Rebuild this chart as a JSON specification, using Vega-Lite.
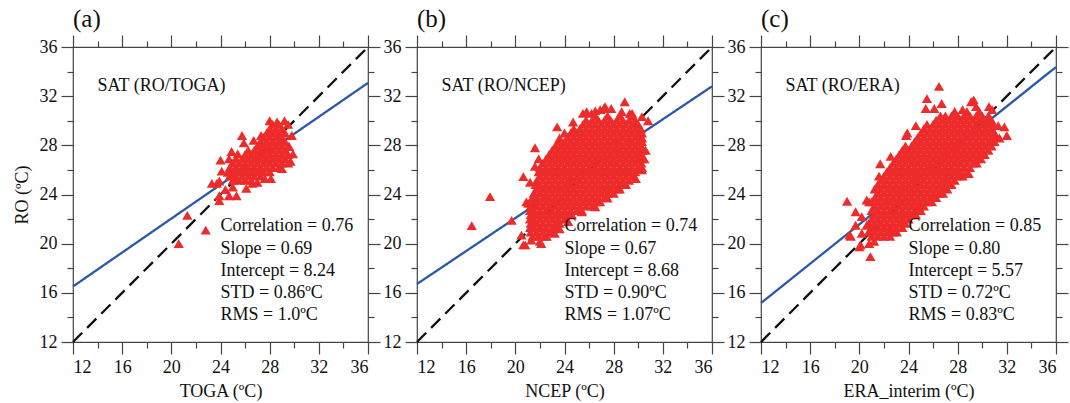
{
"$schema":"https://vega.github.io/schema/vega-lite/v6.json",
"background":"white",
"padding":{"left":12,"top":6,"right":0,"bottom":0},
"config":{"font":"Liberation Serif","view":{"stroke":"#444","strokeWidth":1.2},"axis":{"grid":false,"domain":false,"tickColor":"#444","tickWidth":1.2,"labelFont":"Liberation Serif","labelFontSize":18,"labelColor":"#111","titleFont":"Liberation Serif","titleFontSize":18,"titleFontWeight":"normal","titleColor":"#111"}},
"datasets":{
"la":[{"k":"fit","x1":12,"y1":16.52,"x2":36,"y2":33.08},{"k":"one","x1":12,"y1":12,"x2":36,"y2":36}],
"lb":[{"k":"fit","x1":12,"y1":16.72,"x2":36,"y2":32.8},{"k":"one","x1":12,"y1":12,"x2":36,"y2":36}],
"lc":[{"k":"fit","x1":12,"y1":15.17,"x2":36,"y2":34.37},{"k":"one","x1":12,"y1":12,"x2":36,"y2":36}],
"ta":[{"x":14,"y":32.85,"t":"SAT (RO/TOGA)"},{"x":24,"y":21.4,"t":"Correlation = 0.76"},{"x":24,"y":19.6,"t":"Slope = 0.69"},{"x":24,"y":17.8,"t":"Intercept = 8.24"},{"x":24,"y":16.0,"t":"STD = 0.86ºC"},{"x":24,"y":14.2,"t":"RMS = 1.0ºC"}],
"tb":[{"x":14,"y":32.85,"t":"SAT (RO/NCEP)"},{"x":24,"y":21.4,"t":"Correlation = 0.74"},{"x":24,"y":19.6,"t":"Slope = 0.67"},{"x":24,"y":17.8,"t":"Intercept = 8.68"},{"x":24,"y":16.0,"t":"STD = 0.90ºC"},{"x":24,"y":14.2,"t":"RMS = 1.07ºC"}],
"tc":[{"x":14,"y":32.85,"t":"SAT (RO/ERA)"},{"x":24,"y":21.4,"t":"Correlation = 0.85"},{"x":24,"y":19.6,"t":"Slope = 0.80"},{"x":24,"y":17.8,"t":"Intercept = 5.57"},{"x":24,"y":16.0,"t":"STD = 0.72ºC"},{"x":24,"y":14.2,"t":"RMS = 0.83ºC"}],
"pa":[
{"x":25.0,"y":25.15},{"x":25.5,"y":25.15},{"x":26.0,"y":25.15},{"x":26.5,"y":25.15},
{"x":24.75,"y":25.5},{"x":25.25,"y":25.5},{"x":25.75,"y":25.5},{"x":26.25,"y":25.5},{"x":26.75,"y":25.5},{"x":27.25,"y":25.5},
{"x":25.0,"y":25.85},{"x":25.5,"y":25.85},{"x":26.0,"y":25.85},{"x":26.5,"y":25.85},{"x":27.0,"y":25.85},{"x":27.5,"y":25.85},{"x":28.0,"y":25.85},
{"x":24.75,"y":26.2},{"x":25.25,"y":26.2},{"x":25.75,"y":26.2},{"x":26.25,"y":26.2},{"x":26.75,"y":26.2},{"x":27.25,"y":26.2},{"x":27.75,"y":26.2},{"x":28.25,"y":26.2},{"x":28.75,"y":26.2},
{"x":25.0,"y":26.55},{"x":25.5,"y":26.55},{"x":26.0,"y":26.55},{"x":26.5,"y":26.55},{"x":27.0,"y":26.55},{"x":27.5,"y":26.55},{"x":28.0,"y":26.55},{"x":28.5,"y":26.55},{"x":29.0,"y":26.55},{"x":29.5,"y":26.55},
{"x":25.25,"y":26.9},{"x":25.75,"y":26.9},{"x":26.25,"y":26.9},{"x":26.75,"y":26.9},{"x":27.25,"y":26.9},{"x":27.75,"y":26.9},{"x":28.25,"y":26.9},{"x":28.75,"y":26.9},{"x":29.25,"y":26.9},
{"x":26.0,"y":27.25},{"x":26.5,"y":27.25},{"x":27.0,"y":27.25},{"x":27.5,"y":27.25},{"x":28.0,"y":27.25},{"x":28.5,"y":27.25},{"x":29.0,"y":27.25},{"x":29.5,"y":27.25},
{"x":26.25,"y":27.6},{"x":26.75,"y":27.6},{"x":27.25,"y":27.6},{"x":27.75,"y":27.6},{"x":28.25,"y":27.6},{"x":28.75,"y":27.6},{"x":29.25,"y":27.6},
{"x":27.0,"y":27.95},{"x":27.5,"y":27.95},{"x":28.0,"y":27.95},{"x":28.5,"y":27.95},{"x":29.0,"y":27.95},{"x":29.5,"y":27.95},
{"x":27.25,"y":28.3},{"x":27.75,"y":28.3},{"x":28.25,"y":28.3},{"x":28.75,"y":28.3},{"x":29.25,"y":28.3},
{"x":27.5,"y":28.65},{"x":28.0,"y":28.65},{"x":28.5,"y":28.65},{"x":29.0,"y":28.65},
{"x":27.75,"y":29.0},{"x":28.25,"y":29.0},{"x":28.75,"y":29.0},{"x":29.25,"y":29.0},
{"x":28.0,"y":29.35},{"x":28.5,"y":29.35},{"x":29.0,"y":29.35},
{"x":28.25,"y":29.7},{"x":28.75,"y":29.7},
{"x":28.0,"y":30.0},{"x":29.2,"y":30.0},{"x":28.6,"y":29.9},{"x":29.5,"y":29.7},{"x":25.75,"y":28.8},{"x":25.9,"y":28.2},{"x":26.7,"y":28.4},{"x":27.3,"y":28.8},{"x":24.9,"y":27.5},{"x":24.0,"y":26.8},{"x":24.7,"y":26.9},{"x":25.4,"y":27.3},{"x":24.1,"y":25.9},{"x":24.6,"y":25.8},{"x":23.9,"y":25.1},{"x":23.3,"y":24.9},{"x":23.7,"y":24.9},{"x":25.3,"y":23.9},{"x":26.1,"y":24.5},{"x":24.7,"y":23.9},{"x":23.9,"y":23.9},{"x":23.9,"y":23.5},{"x":24.4,"y":24.4},{"x":25.0,"y":24.6},{"x":27.0,"y":25.0},{"x":28.1,"y":25.3},{"x":29.0,"y":26.1},{"x":29.7,"y":26.7},{"x":29.6,"y":27.9},{"x":29.8,"y":28.8},{"x":29.9,"y":27.3},{"x":21.3,"y":22.3},{"x":20.6,"y":20.0},{"x":22.8,"y":21.1},{"x":26.6,"y":24.9},{"x":27.6,"y":25.3}
],
"pb":[
{"x":21.4,"y":20.6},{"x":21.9,"y":20.6},{"x":22.4,"y":20.6},
{"x":21.25,"y":20.95},{"x":21.75,"y":20.95},{"x":22.25,"y":20.95},{"x":22.75,"y":20.95},{"x":23.05,"y":20.95},
{"x":21.2,"y":21.3},{"x":21.5,"y":21.3},{"x":22.0,"y":21.3},{"x":22.5,"y":21.3},{"x":23.0,"y":21.3},{"x":23.4,"y":21.3},
{"x":21.25,"y":21.65},{"x":21.75,"y":21.65},{"x":22.25,"y":21.65},{"x":22.75,"y":21.65},{"x":23.25,"y":21.65},{"x":23.6,"y":21.65},
{"x":21.2,"y":22.0},{"x":21.5,"y":22.0},{"x":22.0,"y":22.0},{"x":22.5,"y":22.0},{"x":23.0,"y":22.0},{"x":23.5,"y":22.0},{"x":24.0,"y":22.0},
{"x":21.25,"y":22.35},{"x":21.75,"y":22.35},{"x":22.25,"y":22.35},{"x":22.75,"y":22.35},{"x":23.25,"y":22.35},{"x":23.75,"y":22.35},{"x":24.25,"y":22.35},{"x":24.6,"y":22.35},
{"x":21.2,"y":22.7},{"x":21.5,"y":22.7},{"x":22.0,"y":22.7},{"x":22.5,"y":22.7},{"x":23.0,"y":22.7},{"x":23.5,"y":22.7},{"x":24.0,"y":22.7},{"x":24.5,"y":22.7},{"x":25.0,"y":22.7},{"x":25.4,"y":22.7},
{"x":21.25,"y":23.05},{"x":21.75,"y":23.05},{"x":22.25,"y":23.05},{"x":22.75,"y":23.05},{"x":23.25,"y":23.05},{"x":23.75,"y":23.05},{"x":24.25,"y":23.05},{"x":24.75,"y":23.05},{"x":25.25,"y":23.05},{"x":25.75,"y":23.05},{"x":26.25,"y":23.05},
{"x":21.5,"y":23.4},{"x":22.0,"y":23.4},{"x":22.5,"y":23.4},{"x":23.0,"y":23.4},{"x":23.5,"y":23.4},{"x":24.0,"y":23.4},{"x":24.5,"y":23.4},{"x":25.0,"y":23.4},{"x":25.5,"y":23.4},{"x":26.0,"y":23.4},{"x":26.5,"y":23.4},{"x":26.9,"y":23.4},
{"x":21.4,"y":23.75},{"x":21.75,"y":23.75},{"x":22.25,"y":23.75},{"x":22.75,"y":23.75},{"x":23.25,"y":23.75},{"x":23.75,"y":23.75},{"x":24.25,"y":23.75},{"x":24.75,"y":23.75},{"x":25.25,"y":23.75},{"x":25.75,"y":23.75},{"x":26.25,"y":23.75},{"x":26.75,"y":23.75},{"x":27.25,"y":23.75},
{"x":21.5,"y":24.1},{"x":22.0,"y":24.1},{"x":22.5,"y":24.1},{"x":23.0,"y":24.1},{"x":23.5,"y":24.1},{"x":24.0,"y":24.1},{"x":24.5,"y":24.1},{"x":25.0,"y":24.1},{"x":25.5,"y":24.1},{"x":26.0,"y":24.1},{"x":26.5,"y":24.1},{"x":27.0,"y":24.1},{"x":27.5,"y":24.1},{"x":28.0,"y":24.1},
{"x":21.75,"y":24.45},{"x":22.25,"y":24.45},{"x":22.75,"y":24.45},{"x":23.25,"y":24.45},{"x":23.75,"y":24.45},{"x":24.25,"y":24.45},{"x":24.75,"y":24.45},{"x":25.25,"y":24.45},{"x":25.75,"y":24.45},{"x":26.25,"y":24.45},{"x":26.75,"y":24.45},{"x":27.25,"y":24.45},{"x":27.75,"y":24.45},{"x":28.25,"y":24.45},{"x":28.5,"y":24.45},
{"x":21.65,"y":24.8},{"x":22.0,"y":24.8},{"x":22.5,"y":24.8},{"x":23.0,"y":24.8},{"x":23.5,"y":24.8},{"x":24.0,"y":24.8},{"x":24.5,"y":24.8},{"x":25.0,"y":24.8},{"x":25.5,"y":24.8},{"x":26.0,"y":24.8},{"x":26.5,"y":24.8},{"x":27.0,"y":24.8},{"x":27.5,"y":24.8},{"x":28.0,"y":24.8},{"x":28.5,"y":24.8},{"x":29.0,"y":24.8},
{"x":21.75,"y":25.15},{"x":22.25,"y":25.15},{"x":22.75,"y":25.15},{"x":23.25,"y":25.15},{"x":23.75,"y":25.15},{"x":24.25,"y":25.15},{"x":24.75,"y":25.15},{"x":25.25,"y":25.15},{"x":25.75,"y":25.15},{"x":26.25,"y":25.15},{"x":26.75,"y":25.15},{"x":27.25,"y":25.15},{"x":27.75,"y":25.15},{"x":28.25,"y":25.15},{"x":28.75,"y":25.15},{"x":29.25,"y":25.15},
{"x":22.0,"y":25.5},{"x":22.5,"y":25.5},{"x":23.0,"y":25.5},{"x":23.5,"y":25.5},{"x":24.0,"y":25.5},{"x":24.5,"y":25.5},{"x":25.0,"y":25.5},{"x":25.5,"y":25.5},{"x":26.0,"y":25.5},{"x":26.5,"y":25.5},{"x":27.0,"y":25.5},{"x":27.5,"y":25.5},{"x":28.0,"y":25.5},{"x":28.5,"y":25.5},{"x":29.0,"y":25.5},{"x":29.5,"y":25.5},
{"x":21.9,"y":25.85},{"x":22.25,"y":25.85},{"x":22.75,"y":25.85},{"x":23.25,"y":25.85},{"x":23.75,"y":25.85},{"x":24.25,"y":25.85},{"x":24.75,"y":25.85},{"x":25.25,"y":25.85},{"x":25.75,"y":25.85},{"x":26.25,"y":25.85},{"x":26.75,"y":25.85},{"x":27.25,"y":25.85},{"x":27.75,"y":25.85},{"x":28.25,"y":25.85},{"x":28.75,"y":25.85},{"x":29.25,"y":25.85},{"x":29.75,"y":25.85},
{"x":22.0,"y":26.2},{"x":22.5,"y":26.2},{"x":23.0,"y":26.2},{"x":23.5,"y":26.2},{"x":24.0,"y":26.2},{"x":24.5,"y":26.2},{"x":25.0,"y":26.2},{"x":25.5,"y":26.2},{"x":26.0,"y":26.2},{"x":26.5,"y":26.2},{"x":27.0,"y":26.2},{"x":27.5,"y":26.2},{"x":28.0,"y":26.2},{"x":28.5,"y":26.2},{"x":29.0,"y":26.2},{"x":29.5,"y":26.2},{"x":30.0,"y":26.2},{"x":30.3,"y":26.2},
{"x":22.25,"y":26.55},{"x":22.75,"y":26.55},{"x":23.25,"y":26.55},{"x":23.75,"y":26.55},{"x":24.25,"y":26.55},{"x":24.75,"y":26.55},{"x":25.25,"y":26.55},{"x":25.75,"y":26.55},{"x":26.25,"y":26.55},{"x":26.75,"y":26.55},{"x":27.25,"y":26.55},{"x":27.75,"y":26.55},{"x":28.25,"y":26.55},{"x":28.75,"y":26.55},{"x":29.25,"y":26.55},{"x":29.75,"y":26.55},{"x":30.25,"y":26.55},
{"x":22.5,"y":26.9},{"x":23.0,"y":26.9},{"x":23.5,"y":26.9},{"x":24.0,"y":26.9},{"x":24.5,"y":26.9},{"x":25.0,"y":26.9},{"x":25.5,"y":26.9},{"x":26.0,"y":26.9},{"x":26.5,"y":26.9},{"x":27.0,"y":26.9},{"x":27.5,"y":26.9},{"x":28.0,"y":26.9},{"x":28.5,"y":26.9},{"x":29.0,"y":26.9},{"x":29.5,"y":26.9},{"x":30.0,"y":26.9},{"x":30.3,"y":26.9},
{"x":22.75,"y":27.25},{"x":23.25,"y":27.25},{"x":23.75,"y":27.25},{"x":24.25,"y":27.25},{"x":24.75,"y":27.25},{"x":25.25,"y":27.25},{"x":25.75,"y":27.25},{"x":26.25,"y":27.25},{"x":26.75,"y":27.25},{"x":27.25,"y":27.25},{"x":27.75,"y":27.25},{"x":28.25,"y":27.25},{"x":28.75,"y":27.25},{"x":29.25,"y":27.25},{"x":29.75,"y":27.25},{"x":30.25,"y":27.25},
{"x":23.0,"y":27.6},{"x":23.5,"y":27.6},{"x":24.0,"y":27.6},{"x":24.5,"y":27.6},{"x":25.0,"y":27.6},{"x":25.5,"y":27.6},{"x":26.0,"y":27.6},{"x":26.5,"y":27.6},{"x":27.0,"y":27.6},{"x":27.5,"y":27.6},{"x":28.0,"y":27.6},{"x":28.5,"y":27.6},{"x":29.0,"y":27.6},{"x":29.5,"y":27.6},{"x":30.0,"y":27.6},{"x":30.3,"y":27.6},
{"x":23.25,"y":27.95},{"x":23.75,"y":27.95},{"x":24.25,"y":27.95},{"x":24.75,"y":27.95},{"x":25.25,"y":27.95},{"x":25.75,"y":27.95},{"x":26.25,"y":27.95},{"x":26.75,"y":27.95},{"x":27.25,"y":27.95},{"x":27.75,"y":27.95},{"x":28.25,"y":27.95},{"x":28.75,"y":27.95},{"x":29.25,"y":27.95},{"x":29.75,"y":27.95},{"x":30.25,"y":27.95},
{"x":23.5,"y":28.3},{"x":24.0,"y":28.3},{"x":24.5,"y":28.3},{"x":25.0,"y":28.3},{"x":25.5,"y":28.3},{"x":26.0,"y":28.3},{"x":26.5,"y":28.3},{"x":27.0,"y":28.3},{"x":27.5,"y":28.3},{"x":28.0,"y":28.3},{"x":28.5,"y":28.3},{"x":29.0,"y":28.3},{"x":29.5,"y":28.3},{"x":30.0,"y":28.3},{"x":30.3,"y":28.3},
{"x":24.25,"y":28.65},{"x":24.75,"y":28.65},{"x":25.25,"y":28.65},{"x":25.75,"y":28.65},{"x":26.25,"y":28.65},{"x":26.75,"y":28.65},{"x":27.25,"y":28.65},{"x":27.75,"y":28.65},{"x":28.25,"y":28.65},{"x":28.75,"y":28.65},{"x":29.25,"y":28.65},{"x":29.75,"y":28.65},{"x":30.25,"y":28.65},
{"x":24.5,"y":29.0},{"x":25.0,"y":29.0},{"x":25.5,"y":29.0},{"x":26.0,"y":29.0},{"x":26.5,"y":29.0},{"x":27.0,"y":29.0},{"x":27.5,"y":29.0},{"x":28.0,"y":29.0},{"x":28.5,"y":29.0},{"x":29.0,"y":29.0},{"x":29.5,"y":29.0},{"x":30.0,"y":29.0},{"x":30.3,"y":29.0},
{"x":24.75,"y":29.35},{"x":25.25,"y":29.35},{"x":25.75,"y":29.35},{"x":26.25,"y":29.35},{"x":26.75,"y":29.35},{"x":27.25,"y":29.35},{"x":27.75,"y":29.35},{"x":28.25,"y":29.35},{"x":28.75,"y":29.35},{"x":29.25,"y":29.35},{"x":29.75,"y":29.35},{"x":30.2,"y":29.35},
{"x":25.5,"y":29.7},{"x":26.0,"y":29.7},{"x":26.5,"y":29.7},{"x":27.0,"y":29.7},{"x":27.5,"y":29.7},{"x":28.0,"y":29.7},{"x":28.5,"y":29.7},{"x":29.0,"y":29.7},{"x":29.5,"y":29.7},{"x":30.0,"y":29.7},
{"x":25.75,"y":30.05},{"x":26.25,"y":30.05},{"x":26.75,"y":30.05},{"x":27.25,"y":30.05},{"x":27.75,"y":30.05},{"x":28.25,"y":30.05},{"x":28.75,"y":30.05},{"x":29.25,"y":30.05},{"x":29.75,"y":30.05},
{"x":26.5,"y":30.4},{"x":27.5,"y":30.4},{"x":28.5,"y":30.4},{"x":29.5,"y":30.4},
{"x":28.9,"y":31.55},{"x":27.2,"y":31.0},{"x":27.3,"y":31.15},{"x":25.5,"y":30.6},{"x":25.8,"y":30.74},{"x":26.2,"y":30.6},{"x":26.5,"y":30.8},{"x":28.65,"y":30.74},{"x":29.3,"y":30.6},{"x":29.5,"y":30.6},{"x":30.3,"y":30.34},{"x":30.8,"y":30.0},{"x":23.4,"y":29.5},{"x":24.0,"y":29.0},{"x":23.6,"y":28.6},{"x":24.7,"y":29.9},{"x":21.6,"y":27.8},{"x":21.9,"y":26.9},{"x":21.6,"y":26.3},{"x":20.65,"y":25.45},{"x":21.2,"y":25.0},{"x":20.9,"y":23.4},{"x":21.06,"y":23.28},{"x":20.5,"y":20.7},{"x":20.65,"y":19.9},{"x":20.8,"y":19.9},{"x":21.3,"y":20.3},{"x":22.0,"y":20.2},{"x":22.1,"y":20.0},{"x":22.55,"y":20.6},{"x":23.2,"y":20.85},{"x":17.94,"y":23.83},{"x":16.45,"y":21.47},{"x":19.7,"y":21.9},{"x":30.3,"y":28.6},{"x":30.6,"y":27.6},{"x":30.5,"y":26.9},{"x":30.3,"y":26.0},{"x":29.8,"y":25.3},{"x":28.8,"y":24.8},{"x":27.5,"y":23.7},{"x":26.5,"y":23.0},{"x":25.4,"y":22.6},{"x":24.3,"y":21.8},{"x":23.6,"y":21.2},{"x":27.8,"y":31.0},{"x":26.9,"y":30.9}
],
"pc":[
{"x":21.0,"y":20.6},{"x":21.5,"y":20.6},{"x":22.0,"y":20.6},{"x":22.5,"y":20.6},
{"x":20.75,"y":20.95},{"x":21.25,"y":20.95},{"x":21.75,"y":20.95},{"x":22.25,"y":20.95},{"x":22.75,"y":20.95},{"x":23.05,"y":20.95},
{"x":21.0,"y":21.3},{"x":21.5,"y":21.3},{"x":22.0,"y":21.3},{"x":22.5,"y":21.3},{"x":23.0,"y":21.3},{"x":23.5,"y":21.3},
{"x":20.75,"y":21.65},{"x":21.25,"y":21.65},{"x":21.75,"y":21.65},{"x":22.25,"y":21.65},{"x":22.75,"y":21.65},{"x":23.25,"y":21.65},{"x":23.75,"y":21.65},
{"x":21.0,"y":22.0},{"x":21.5,"y":22.0},{"x":22.0,"y":22.0},{"x":22.5,"y":22.0},{"x":23.0,"y":22.0},{"x":23.5,"y":22.0},{"x":24.0,"y":22.0},
{"x":21.25,"y":22.35},{"x":21.75,"y":22.35},{"x":22.25,"y":22.35},{"x":22.75,"y":22.35},{"x":23.25,"y":22.35},{"x":23.75,"y":22.35},{"x":24.25,"y":22.35},{"x":24.6,"y":22.35},
{"x":21.0,"y":22.7},{"x":21.5,"y":22.7},{"x":22.0,"y":22.7},{"x":22.5,"y":22.7},{"x":23.0,"y":22.7},{"x":23.5,"y":22.7},{"x":24.0,"y":22.7},{"x":24.5,"y":22.7},{"x":25.0,"y":22.7},
{"x":21.25,"y":23.05},{"x":21.75,"y":23.05},{"x":22.25,"y":23.05},{"x":22.75,"y":23.05},{"x":23.25,"y":23.05},{"x":23.75,"y":23.05},{"x":24.25,"y":23.05},{"x":24.75,"y":23.05},{"x":25.25,"y":23.05},
{"x":21.0,"y":23.4},{"x":21.5,"y":23.4},{"x":22.0,"y":23.4},{"x":22.5,"y":23.4},{"x":23.0,"y":23.4},{"x":23.5,"y":23.4},{"x":24.0,"y":23.4},{"x":24.5,"y":23.4},{"x":25.0,"y":23.4},{"x":25.5,"y":23.4},{"x":25.9,"y":23.4},
{"x":21.25,"y":23.75},{"x":21.75,"y":23.75},{"x":22.25,"y":23.75},{"x":22.75,"y":23.75},{"x":23.25,"y":23.75},{"x":23.75,"y":23.75},{"x":24.25,"y":23.75},{"x":24.75,"y":23.75},{"x":25.25,"y":23.75},{"x":25.75,"y":23.75},{"x":26.25,"y":23.75},
{"x":21.5,"y":24.1},{"x":22.0,"y":24.1},{"x":22.5,"y":24.1},{"x":23.0,"y":24.1},{"x":23.5,"y":24.1},{"x":24.0,"y":24.1},{"x":24.5,"y":24.1},{"x":25.0,"y":24.1},{"x":25.5,"y":24.1},{"x":26.0,"y":24.1},{"x":26.5,"y":24.1},{"x":26.8,"y":24.1},
{"x":21.25,"y":24.45},{"x":21.75,"y":24.45},{"x":22.25,"y":24.45},{"x":22.75,"y":24.45},{"x":23.25,"y":24.45},{"x":23.75,"y":24.45},{"x":24.25,"y":24.45},{"x":24.75,"y":24.45},{"x":25.25,"y":24.45},{"x":25.75,"y":24.45},{"x":26.25,"y":24.45},{"x":26.75,"y":24.45},{"x":27.15,"y":24.45},
{"x":21.5,"y":24.8},{"x":22.0,"y":24.8},{"x":22.5,"y":24.8},{"x":23.0,"y":24.8},{"x":23.5,"y":24.8},{"x":24.0,"y":24.8},{"x":24.5,"y":24.8},{"x":25.0,"y":24.8},{"x":25.5,"y":24.8},{"x":26.0,"y":24.8},{"x":26.5,"y":24.8},{"x":27.0,"y":24.8},{"x":27.5,"y":24.8},
{"x":21.75,"y":25.15},{"x":22.25,"y":25.15},{"x":22.75,"y":25.15},{"x":23.25,"y":25.15},{"x":23.75,"y":25.15},{"x":24.25,"y":25.15},{"x":24.75,"y":25.15},{"x":25.25,"y":25.15},{"x":25.75,"y":25.15},{"x":26.25,"y":25.15},{"x":26.75,"y":25.15},{"x":27.25,"y":25.15},{"x":27.75,"y":25.15},
{"x":22.0,"y":25.5},{"x":22.5,"y":25.5},{"x":23.0,"y":25.5},{"x":23.5,"y":25.5},{"x":24.0,"y":25.5},{"x":24.5,"y":25.5},{"x":25.0,"y":25.5},{"x":25.5,"y":25.5},{"x":26.0,"y":25.5},{"x":26.5,"y":25.5},{"x":27.0,"y":25.5},{"x":27.5,"y":25.5},{"x":28.0,"y":25.5},{"x":28.4,"y":25.5},
{"x":22.25,"y":25.85},{"x":22.75,"y":25.85},{"x":23.25,"y":25.85},{"x":23.75,"y":25.85},{"x":24.25,"y":25.85},{"x":24.75,"y":25.85},{"x":25.25,"y":25.85},{"x":25.75,"y":25.85},{"x":26.25,"y":25.85},{"x":26.75,"y":25.85},{"x":27.25,"y":25.85},{"x":27.75,"y":25.85},{"x":28.25,"y":25.85},{"x":28.75,"y":25.85},
{"x":22.5,"y":26.2},{"x":23.0,"y":26.2},{"x":23.5,"y":26.2},{"x":24.0,"y":26.2},{"x":24.5,"y":26.2},{"x":25.0,"y":26.2},{"x":25.5,"y":26.2},{"x":26.0,"y":26.2},{"x":26.5,"y":26.2},{"x":27.0,"y":26.2},{"x":27.5,"y":26.2},{"x":28.0,"y":26.2},{"x":28.5,"y":26.2},{"x":29.0,"y":26.2},
{"x":22.75,"y":26.55},{"x":23.25,"y":26.55},{"x":23.75,"y":26.55},{"x":24.25,"y":26.55},{"x":24.75,"y":26.55},{"x":25.25,"y":26.55},{"x":25.75,"y":26.55},{"x":26.25,"y":26.55},{"x":26.75,"y":26.55},{"x":27.25,"y":26.55},{"x":27.75,"y":26.55},{"x":28.25,"y":26.55},{"x":28.75,"y":26.55},{"x":29.25,"y":26.55},{"x":29.55,"y":26.55},
{"x":23.0,"y":26.9},{"x":23.5,"y":26.9},{"x":24.0,"y":26.9},{"x":24.5,"y":26.9},{"x":25.0,"y":26.9},{"x":25.5,"y":26.9},{"x":26.0,"y":26.9},{"x":26.5,"y":26.9},{"x":27.0,"y":26.9},{"x":27.5,"y":26.9},{"x":28.0,"y":26.9},{"x":28.5,"y":26.9},{"x":29.0,"y":26.9},{"x":29.5,"y":26.9},{"x":29.9,"y":26.9},
{"x":23.25,"y":27.25},{"x":23.75,"y":27.25},{"x":24.25,"y":27.25},{"x":24.75,"y":27.25},{"x":25.25,"y":27.25},{"x":25.75,"y":27.25},{"x":26.25,"y":27.25},{"x":26.75,"y":27.25},{"x":27.25,"y":27.25},{"x":27.75,"y":27.25},{"x":28.25,"y":27.25},{"x":28.75,"y":27.25},{"x":29.25,"y":27.25},{"x":29.75,"y":27.25},{"x":30.2,"y":27.25},
{"x":23.5,"y":27.6},{"x":24.0,"y":27.6},{"x":24.5,"y":27.6},{"x":25.0,"y":27.6},{"x":25.5,"y":27.6},{"x":26.0,"y":27.6},{"x":26.5,"y":27.6},{"x":27.0,"y":27.6},{"x":27.5,"y":27.6},{"x":28.0,"y":27.6},{"x":28.5,"y":27.6},{"x":29.0,"y":27.6},{"x":29.5,"y":27.6},{"x":30.0,"y":27.6},{"x":30.5,"y":27.6},
{"x":23.75,"y":27.95},{"x":24.25,"y":27.95},{"x":24.75,"y":27.95},{"x":25.25,"y":27.95},{"x":25.75,"y":27.95},{"x":26.25,"y":27.95},{"x":26.75,"y":27.95},{"x":27.25,"y":27.95},{"x":27.75,"y":27.95},{"x":28.25,"y":27.95},{"x":28.75,"y":27.95},{"x":29.25,"y":27.95},{"x":29.75,"y":27.95},{"x":30.25,"y":27.95},{"x":30.75,"y":27.95},
{"x":24.5,"y":28.3},{"x":25.0,"y":28.3},{"x":25.5,"y":28.3},{"x":26.0,"y":28.3},{"x":26.5,"y":28.3},{"x":27.0,"y":28.3},{"x":27.5,"y":28.3},{"x":28.0,"y":28.3},{"x":28.5,"y":28.3},{"x":29.0,"y":28.3},{"x":29.5,"y":28.3},{"x":30.0,"y":28.3},{"x":30.5,"y":28.3},{"x":31.0,"y":28.3},
{"x":24.75,"y":28.65},{"x":25.25,"y":28.65},{"x":25.75,"y":28.65},{"x":26.25,"y":28.65},{"x":26.75,"y":28.65},{"x":27.25,"y":28.65},{"x":27.75,"y":28.65},{"x":28.25,"y":28.65},{"x":28.75,"y":28.65},{"x":29.25,"y":28.65},{"x":29.75,"y":28.65},{"x":30.25,"y":28.65},{"x":30.75,"y":28.65},{"x":31.1,"y":28.65},
{"x":25.0,"y":29.0},{"x":25.5,"y":29.0},{"x":26.0,"y":29.0},{"x":26.5,"y":29.0},{"x":27.0,"y":29.0},{"x":27.5,"y":29.0},{"x":28.0,"y":29.0},{"x":28.5,"y":29.0},{"x":29.0,"y":29.0},{"x":29.5,"y":29.0},{"x":30.0,"y":29.0},{"x":30.5,"y":29.0},{"x":31.0,"y":29.0},
{"x":25.25,"y":29.35},{"x":25.75,"y":29.35},{"x":26.25,"y":29.35},{"x":26.75,"y":29.35},{"x":27.25,"y":29.35},{"x":27.75,"y":29.35},{"x":28.25,"y":29.35},{"x":28.75,"y":29.35},{"x":29.25,"y":29.35},{"x":29.75,"y":29.35},{"x":30.25,"y":29.35},{"x":30.75,"y":29.35},
{"x":25.5,"y":29.7},{"x":26.0,"y":29.7},{"x":26.5,"y":29.7},{"x":27.0,"y":29.7},{"x":27.5,"y":29.7},{"x":28.0,"y":29.7},{"x":28.5,"y":29.7},{"x":29.0,"y":29.7},{"x":29.5,"y":29.7},{"x":30.0,"y":29.7},{"x":30.5,"y":29.7},{"x":30.9,"y":29.7},
{"x":26.25,"y":30.05},{"x":26.75,"y":30.05},{"x":27.25,"y":30.05},{"x":27.75,"y":30.05},{"x":28.25,"y":30.05},{"x":28.75,"y":30.05},{"x":29.25,"y":30.05},{"x":29.75,"y":30.05},{"x":30.25,"y":30.05},{"x":30.75,"y":30.05},
{"x":26.6,"y":30.4},{"x":27.0,"y":30.4},{"x":27.5,"y":30.4},{"x":28.0,"y":30.4},{"x":28.5,"y":30.4},{"x":29.0,"y":30.4},{"x":29.5,"y":30.4},{"x":30.0,"y":30.4},{"x":30.5,"y":30.4},
{"x":27.75,"y":30.75},{"x":28.75,"y":30.75},{"x":29.75,"y":30.75},
{"x":26.48,"y":32.8},{"x":25.5,"y":31.8},{"x":25.4,"y":31.0},{"x":26.1,"y":31.0},{"x":26.7,"y":31.4},{"x":28.4,"y":30.9},{"x":29.1,"y":31.55},{"x":29.3,"y":31.7},{"x":29.5,"y":31.15},{"x":30.55,"y":31.15},{"x":30.8,"y":30.9},{"x":31.8,"y":29.5},{"x":32.0,"y":28.8},{"x":31.4,"y":28.6},{"x":31.3,"y":29.6},{"x":28.9,"y":25.7},{"x":27.0,"y":24.9},{"x":24.85,"y":23.0},{"x":23.5,"y":21.9},{"x":20.8,"y":20.0},{"x":20.9,"y":18.95},{"x":20.0,"y":19.75},{"x":19.3,"y":20.6},{"x":19.0,"y":23.45},{"x":19.7,"y":22.6},{"x":19.7,"y":21.5},{"x":19.2,"y":20.7},{"x":20.2,"y":20.85},{"x":20.1,"y":19.9},{"x":21.2,"y":20.2},{"x":22.7,"y":21.0},{"x":20.6,"y":21.5},{"x":20.8,"y":23.4},{"x":21.7,"y":26.5},{"x":21.6,"y":25.5},{"x":22.55,"y":27.1},{"x":23.8,"y":28.8},{"x":23.9,"y":29.0},{"x":20.6,"y":23.55},{"x":20.2,"y":22.2},{"x":24.6,"y":29.6},{"x":29.8,"y":27.0},{"x":26.0,"y":24.0}
]
},
"hconcat":[
{"width":295,"height":295,
 "title":{"text":"(a)","anchor":"start","frame":"group","fontSize":25,"fontWeight":"normal","font":"Liberation Serif","color":"#111","offset":2},
 "resolve":{"axis":{"x":"independent","y":"independent"}},
 "layer":[
  {"data":{"name":"la"},"mark":{"type":"rule","strokeWidth":2.3},
   "encoding":{
    "x":{"field":"x1","type":"quantitative","scale":{"domain":[12,36],"nice":false,"zero":false},"axis":{"orient":"top","values":[12,14,16,18,20,22,24,26,28,30,32,34,36],"labels":false,"title":null,"tickSize":{"condition":{"test":"datum.value % 4 === 0","value":12},"value":6}}},
    "x2":{"field":"x2"},
    "y":{"field":"y1","type":"quantitative","scale":{"domain":[12,36],"nice":false,"zero":false},"axis":{"orient":"right","values":[12,14,16,18,20,22,24,26,28,30,32,34,36],"labels":false,"title":null,"tickSize":{"condition":{"test":"datum.value % 4 === 0","value":12},"value":6}}},
    "y2":{"field":"y2"},
    "color":{"field":"k","type":"nominal","scale":{"domain":["fit","one"],"range":["#2b59a8","#111111"]},"legend":null},
    "strokeDash":{"field":"k","type":"nominal","scale":{"domain":["fit","one"],"range":[[1,0],[13,7]]},"legend":null}}},
  {"data":{"name":"pa"},"mark":{"type":"point","shape":"triangle-up","filled":true,"size":105,"color":"#ee2b2b","opacity":1,"strokeWidth":0},
   "encoding":{
    "x":{"field":"x","type":"quantitative","axis":{"orient":"bottom","values":[12,14,16,18,20,22,24,26,28,30,32,34,36],"labelExpr":"datum.value % 4 === 0 ? datum.label : ''","labelPadding":4,"title":"TOGA (ºC)","titlePadding":6,"tickSize":{"condition":{"test":"datum.value % 4 === 0","value":12},"value":6}}},
    "y":{"field":"y","type":"quantitative","axis":{"orient":"left","values":[12,14,16,18,20,22,24,26,28,30,32,34,36],"labelExpr":"datum.value % 4 === 0 ? datum.label : ''","labelPadding":4,"title":"RO (ºC)","titlePadding":8,"tickSize":{"condition":{"test":"datum.value % 4 === 0","value":12},"value":6}}}}},
  {"data":{"name":"ta"},"mark":{"type":"text","align":"left","baseline":"middle","fontSize":18,"font":"Liberation Serif","color":"#111"},
   "encoding":{"x":{"field":"x","type":"quantitative","axis":null},"y":{"field":"y","type":"quantitative","axis":null},"text":{"field":"t"}}}
 ]},
{"width":295,"height":295,
 "title":{"text":"(b)","anchor":"start","frame":"group","fontSize":25,"fontWeight":"normal","font":"Liberation Serif","color":"#111","offset":2},
 "resolve":{"axis":{"x":"independent","y":"independent"}},
 "layer":[
  {"data":{"name":"lb"},"mark":{"type":"rule","strokeWidth":2.3},
   "encoding":{
    "x":{"field":"x1","type":"quantitative","scale":{"domain":[12,36],"nice":false,"zero":false},"axis":{"orient":"top","values":[12,14,16,18,20,22,24,26,28,30,32,34,36],"labels":false,"title":null,"tickSize":{"condition":{"test":"datum.value % 4 === 0","value":12},"value":6}}},
    "x2":{"field":"x2"},
    "y":{"field":"y1","type":"quantitative","scale":{"domain":[12,36],"nice":false,"zero":false},"axis":{"orient":"right","values":[12,14,16,18,20,22,24,26,28,30,32,34,36],"labels":false,"title":null,"tickSize":{"condition":{"test":"datum.value % 4 === 0","value":12},"value":6}}},
    "y2":{"field":"y2"},
    "color":{"field":"k","type":"nominal","scale":{"domain":["fit","one"],"range":["#2b59a8","#111111"]},"legend":null},
    "strokeDash":{"field":"k","type":"nominal","scale":{"domain":["fit","one"],"range":[[1,0],[13,7]]},"legend":null}}},
  {"data":{"name":"pb"},"mark":{"type":"point","shape":"triangle-up","filled":true,"size":105,"color":"#ee2b2b","opacity":1,"strokeWidth":0},
   "encoding":{
    "x":{"field":"x","type":"quantitative","axis":{"orient":"bottom","values":[12,14,16,18,20,22,24,26,28,30,32,34,36],"labelExpr":"datum.value % 4 === 0 ? datum.label : ''","labelPadding":4,"title":"NCEP (ºC)","titlePadding":6,"tickSize":{"condition":{"test":"datum.value % 4 === 0","value":12},"value":6}}},
    "y":{"field":"y","type":"quantitative","axis":{"orient":"left","values":[12,14,16,18,20,22,24,26,28,30,32,34,36],"labelExpr":"datum.value % 4 === 0 ? datum.label : ''","labelPadding":4,"title":null,"tickSize":{"condition":{"test":"datum.value % 4 === 0","value":12},"value":6}}}}},
  {"data":{"name":"tb"},"mark":{"type":"text","align":"left","baseline":"middle","fontSize":18,"font":"Liberation Serif","color":"#111"},
   "encoding":{"x":{"field":"x","type":"quantitative","axis":null},"y":{"field":"y","type":"quantitative","axis":null},"text":{"field":"t"}}}
 ]},
{"width":295,"height":295,
 "title":{"text":"(c)","anchor":"start","frame":"group","fontSize":25,"fontWeight":"normal","font":"Liberation Serif","color":"#111","offset":2},
 "resolve":{"axis":{"x":"independent","y":"independent"}},
 "layer":[
  {"data":{"name":"lc"},"mark":{"type":"rule","strokeWidth":2.3},
   "encoding":{
    "x":{"field":"x1","type":"quantitative","scale":{"domain":[12,36],"nice":false,"zero":false},"axis":{"orient":"top","values":[12,14,16,18,20,22,24,26,28,30,32,34,36],"labels":false,"title":null,"tickSize":{"condition":{"test":"datum.value % 4 === 0","value":12},"value":6}}},
    "x2":{"field":"x2"},
    "y":{"field":"y1","type":"quantitative","scale":{"domain":[12,36],"nice":false,"zero":false},"axis":{"orient":"right","values":[12,14,16,18,20,22,24,26,28,30,32,34,36],"labels":false,"title":null,"tickSize":{"condition":{"test":"datum.value % 4 === 0","value":12},"value":6}}},
    "y2":{"field":"y2"},
    "color":{"field":"k","type":"nominal","scale":{"domain":["fit","one"],"range":["#2b59a8","#111111"]},"legend":null},
    "strokeDash":{"field":"k","type":"nominal","scale":{"domain":["fit","one"],"range":[[1,0],[13,7]]},"legend":null}}},
  {"data":{"name":"pc"},"mark":{"type":"point","shape":"triangle-up","filled":true,"size":105,"color":"#ee2b2b","opacity":1,"strokeWidth":0},
   "encoding":{
    "x":{"field":"x","type":"quantitative","axis":{"orient":"bottom","values":[12,14,16,18,20,22,24,26,28,30,32,34,36],"labelExpr":"datum.value % 4 === 0 ? datum.label : ''","labelPadding":4,"title":"ERA_interim (ºC)","titlePadding":6,"tickSize":{"condition":{"test":"datum.value % 4 === 0","value":12},"value":6}}},
    "y":{"field":"y","type":"quantitative","axis":{"orient":"left","values":[12,14,16,18,20,22,24,26,28,30,32,34,36],"labelExpr":"datum.value % 4 === 0 ? datum.label : ''","labelPadding":4,"title":null,"tickSize":{"condition":{"test":"datum.value % 4 === 0","value":12},"value":6}}}}},
  {"data":{"name":"tc"},"mark":{"type":"text","align":"left","baseline":"middle","fontSize":18,"font":"Liberation Serif","color":"#111"},
   "encoding":{"x":{"field":"x","type":"quantitative","axis":null},"y":{"field":"y","type":"quantitative","axis":null},"text":{"field":"t"}}}
 ]}
],
"spacing":49,
"bounds":"flush"
}
